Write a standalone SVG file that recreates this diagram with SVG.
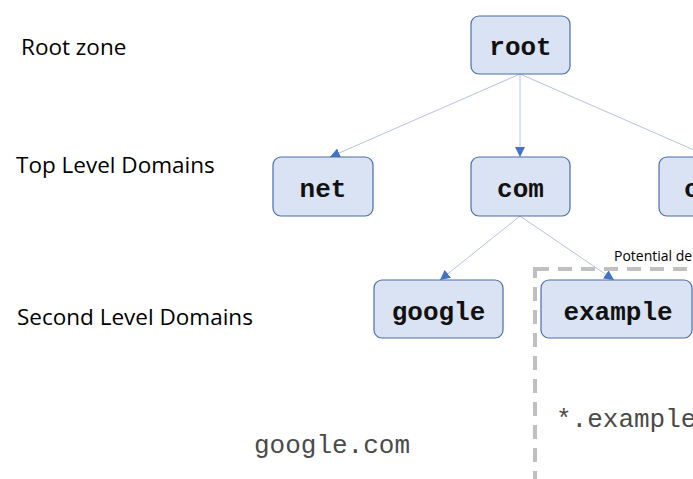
<svg xmlns="http://www.w3.org/2000/svg" width="693" height="479" viewBox="0 0 693 479">
  <defs>
    <marker id="arrow" viewBox="0 0 10 10" refX="10" refY="5" markerWidth="10" markerHeight="11" markerUnits="userSpaceOnUse" orient="auto">
      <path d="M0,0 L10,5 L0,10 Z" fill="#4472c4"/>
    </marker>
    <style>
      .node rect { fill: #dae3f3; stroke: #4a6fa8; stroke-width: 1.2; }
      .node text { font-family: "Liberation Mono", "Courier New", monospace; font-weight: bold; font-size: 26px; fill: #111; text-anchor: middle; }
      .edge { stroke: #b4c4de; stroke-width: 1; fill: none; marker-end: url(#arrow); }
      .level { font-family: "Open Sans", "Liberation Sans", sans-serif; font-size: 22.5px; fill: #000; }
      .mono { font-family: "Liberation Mono", "Courier New", monospace; font-size: 26px; fill: #4a4a4a; }
      .small { font-family: "Open Sans", "Liberation Sans", sans-serif; font-size: 14px; fill: #000; }
    </style>
  </defs>
  <rect width="693" height="479" fill="#ffffff"/>

  <!-- level labels -->
  <text class="level" x="21" y="55">Root zone</text>
  <text class="level" x="16" y="173">Top Level Domains</text>
  <text class="level" x="17" y="325">Second Level Domains</text>

  <!-- connectors -->
  <g id="connectors">
    <line class="edge" x1="520" y1="74" x2="330" y2="157"/>
    <line class="edge" x1="520" y1="74" x2="520" y2="157"/>
    <line class="edge" x1="520" y1="74" x2="710" y2="157"/>
    <line class="edge" x1="520" y1="216" x2="440" y2="280"/>
    <line class="edge" x1="520" y1="216" x2="614" y2="280"/>
  </g>

  <!-- delegation boundary -->
  <rect x="535" y="269" width="200" height="230" fill="none" stroke="#c0c0c0" stroke-width="4" stroke-dasharray="14,9"/>
  <text class="small" x="614" y="261">Potential de</text>

  <!-- nodes -->
  <g id="node-root" class="node">
    <rect x="471" y="16" width="99" height="58" rx="8"/>
    <text x="520.5" y="55">root</text>
  </g>
  <g id="node-net" class="node">
    <rect x="273" y="157" width="100" height="59" rx="8"/>
    <text x="323" y="197">net</text>
  </g>
  <g id="node-com" class="node">
    <rect x="471" y="157" width="99" height="59" rx="8"/>
    <text x="520.5" y="197">com</text>
  </g>
  <g id="node-tld3" class="node">
    <rect x="659" y="157" width="99" height="59" rx="8"/>
    <text x="684" y="197" style="text-anchor:start">c</text>
  </g>
  <g id="node-google" class="node">
    <rect x="374" y="280" width="129" height="58" rx="8"/>
    <text x="438.5" y="320">google</text>
  </g>
  <g id="node-example" class="node">
    <rect x="541" y="280" width="151" height="58" rx="8"/>
    <text x="618" y="320">example</text>
  </g>

  <!-- example names -->
  <text class="mono" x="254" y="453">google.com</text>
  <text class="mono" x="556" y="427">*.example</text>
</svg>
